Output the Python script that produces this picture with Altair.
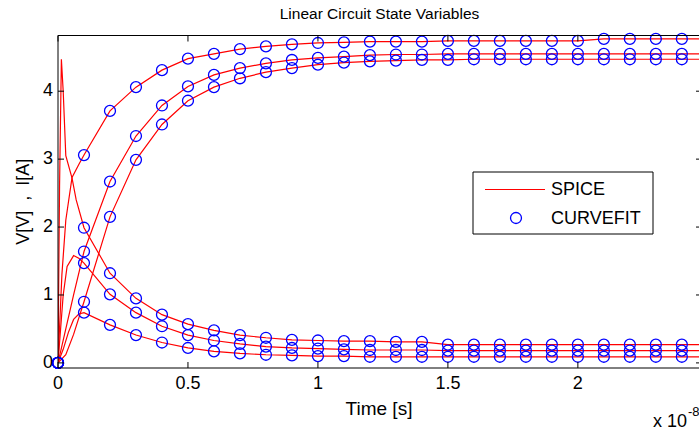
import altair as alt
import pandas as pd

# ---------------- data ----------------
t_fit = [0.0, 0.1, 0.2, 0.3, 0.4, 0.5, 0.6, 0.7, 0.8, 0.9, 1.0, 1.1, 1.2,
         1.3, 1.4, 1.5, 1.6, 1.7, 1.8, 1.9, 2.0, 2.1, 2.2, 2.3, 2.4]

v1_fit = [0, 3.06, 3.71, 4.06, 4.31, 4.48, 4.55, 4.62, 4.66, 4.69, 4.71, 4.72, 4.73,
          4.73, 4.73, 4.74, 4.74, 4.74, 4.74, 4.74, 4.74, 4.77, 4.77, 4.77, 4.77]
v2_fit = [0, 1.64, 2.67, 3.34, 3.79, 4.07, 4.24, 4.34, 4.41, 4.46, 4.49, 4.51, 4.53,
          4.54, 4.54, 4.55, 4.55, 4.55, 4.55, 4.55, 4.55, 4.55, 4.55, 4.55, 4.55]
v3_fit = [0, 0.90, 2.15, 2.99, 3.51, 3.86, 4.06, 4.19, 4.28, 4.34, 4.39, 4.42, 4.44,
          4.45, 4.46, 4.46, 4.47, 4.47, 4.47, 4.47, 4.47, 4.47, 4.47, 4.47, 4.47]
i1_fit = [0, 1.99, 1.32, 0.95, 0.71, 0.57, 0.48, 0.41, 0.37, 0.34, 0.33, 0.32, 0.32,
          0.31, 0.31, 0.27, 0.27, 0.27, 0.27, 0.27, 0.27, 0.27, 0.27, 0.27, 0.27]
i2_fit = [0, 1.47, 1.01, 0.74, 0.54, 0.41, 0.33, 0.28, 0.24, 0.22, 0.21, 0.20, 0.19,
          0.19, 0.19, 0.18, 0.18, 0.18, 0.18, 0.18, 0.18, 0.18, 0.18, 0.18, 0.18]
i3_fit = [0, 0.74, 0.56, 0.41, 0.30, 0.22, 0.17, 0.14, 0.12, 0.11, 0.10, 0.10, 0.09,
          0.09, 0.09, 0.09, 0.09, 0.09, 0.09, 0.09, 0.09, 0.09, 0.09, 0.09, 0.09]

# extra SPICE samples inside the first 0.1e-8 s (fast transients)
v1_early_t = [0.015, 0.03, 0.054, 0.08]
v1_early_v = [1.3, 2.1, 2.73, 2.92]
v2_early_t = [0.03, 0.06]
v2_early_v = [0.5, 1.0]
v3_early_t = [0.03, 0.06]
v3_early_v = [0.12, 0.42]
i1_early_t = [0.006, 0.013, 0.02, 0.03, 0.054, 0.07]
i1_early_v = [2.6, 4.47, 4.0, 3.05, 2.72, 2.4]
i2_early_t = [0.01, 0.02, 0.035, 0.06, 0.08]
i2_early_v = [0.5, 1.0, 1.42, 1.58, 1.54]
i3_early_t = [0.02, 0.04, 0.06, 0.08]
i3_early_v = [0.2, 0.45, 0.64, 0.72]
t_end = 2.5

x_ticks = [0, 0.5, 1, 1.5, 2]
x_tick_labels = ["0", "0.5", "1", "1.5", "2"]
y_ticks = [0, 1, 2, 3, 4]
y_tick_labels = ["0", "1", "2", "3", "4"]
legend_labels = ["SPICE", "CURVEFIT"]
chart_title = "Linear Circuit State Variables"
x_title = "Time [s]"
y_title = "V[V]\u00a0\u00a0,\u00a0\u00a0I[A]"
exp_base = "x 10"
exp_power = "-8"

# ---------------- build tables ----------------
fits = {"v1": v1_fit, "v2": v2_fit, "v3": v3_fit,
        "i1": i1_fit, "i2": i2_fit, "i3": i3_fit}
early = {"v1": (v1_early_t, v1_early_v), "v2": (v2_early_t, v2_early_v),
         "v3": (v3_early_t, v3_early_v), "i1": (i1_early_t, i1_early_v),
         "i2": (i2_early_t, i2_early_v), "i3": (i3_early_t, i3_early_v)}

fit_rows, spice_rows = [], []
for name, vals in fits.items():
    for t, v in zip(t_fit, vals):
        fit_rows.append({"series": name, "t": t, "v": v})
    et, ev = early[name]
    ts = [t_fit[0]] + et + t_fit[1:] + [t_end]
    vs = [vals[0]] + ev + vals[1:] + [vals[-1]]
    for t, v in zip(ts, vs):
        spice_rows.append({"series": name, "t": t, "v": v})
fit_df = pd.DataFrame(fit_rows)
spice_df = pd.DataFrame(spice_rows)

# ---------------- layout ----------------
W, H = 641, 332.5
FONT = "Liberation Sans"
FS = 18
x_dom = [0, 2.466]
y_dom = [-0.075, 4.82]
xs = alt.Scale(domain=x_dom, nice=False, zero=False)
ys = alt.Scale(domain=y_dom, nice=False, zero=False)


def X(field):
    return alt.X(field, scale=xs, axis=None)


def Y(field):
    return alt.Y(field, scale=ys, axis=None)


lines = alt.Chart(spice_df).mark_line(color="#ff0000", strokeWidth=1.2, clip=True).encode(
    x=X("t:Q"), y=Y("v:Q"), detail="series:N", order="t:Q")
points = alt.Chart(fit_df).mark_point(shape="circle", filled=False, color="#0000ff",
                                      size=120, strokeWidth=1.3, opacity=1).encode(
    x=X("t:Q"), y=Y("v:Q"))

xt = pd.DataFrame({"v": x_ticks, "label": x_tick_labels})
yt = pd.DataFrame({"v": y_ticks, "label": y_tick_labels})
one = pd.DataFrame({"a": [0]})

tick_bottom = alt.Chart(xt).mark_rule(color="black").encode(
    x=X("v:Q"), y=alt.value(H), y2=alt.value(H - 6))
tick_top = alt.Chart(xt).mark_rule(color="black").encode(
    x=X("v:Q"), y=alt.value(0), y2=alt.value(6))
tick_left = alt.Chart(yt).mark_rule(color="black").encode(
    y=Y("v:Q"), x=alt.value(0), x2=alt.value(6))
tick_right = alt.Chart(yt).mark_rule(color="black").encode(
    y=Y("v:Q"), x=alt.value(W - 3), x2=alt.value(W))
border_top = alt.Chart(one).mark_rule(color="black").encode(
    x=alt.value(0), x2=alt.value(W), y=alt.value(0))
border_bottom = alt.Chart(one).mark_rule(color="black").encode(
    x=alt.value(0), x2=alt.value(W), y=alt.value(H))
border_left = alt.Chart(one).mark_rule(color="black").encode(
    x=alt.value(0), y=alt.value(0), y2=alt.value(H))

x_labels = alt.Chart(xt).mark_text(font=FONT, fontSize=FS, align="center",
                                   baseline="top", color="black").encode(
    x=X("v:Q"), y=alt.value(H + 7), text="label:N")
y_labels = alt.Chart(yt).mark_text(font=FONT, fontSize=FS, align="right",
                                   baseline="middle", color="black").encode(
    y=Y("v:Q"), x=alt.value(-5), text="label:N")


def label_text(txt, x, y, size=FS, align="center", baseline="alphabetic", angle=0):
    return alt.Chart(pd.DataFrame({"label": [txt]})).mark_text(
        font=FONT, fontSize=size, align=align, baseline=baseline, angle=angle,
        color="black").encode(text="label:N", x=alt.value(x), y=alt.value(y))


title_t = label_text(chart_title, W / 2 + 1, -16.5, size=15.5)
x_title_t = label_text(x_title, W / 2 + 0.5, H + 47, size=19)
y_title_t = label_text(y_title, -29, H / 2, angle=270)

# legend
leg_box = alt.Chart(one).mark_rect(fill="white", stroke="black", strokeWidth=1).encode(
    x=alt.value(415), x2=alt.value(595), y=alt.value(136.5), y2=alt.value(198.5))
leg_line = alt.Chart(one).mark_rule(color="#ff0000", strokeWidth=1.2).encode(
    x=alt.value(427), x2=alt.value(487), y=alt.value(154))
leg_pt = alt.Chart(one).mark_point(shape="circle", filled=False, color="#0000ff",
                                   size=120, strokeWidth=1.3, opacity=1).encode(
    x=alt.value(458), y=alt.value(182.5))
leg_t1 = label_text(legend_labels[0], 493, 154, align="left", baseline="middle")
leg_t2 = label_text(legend_labels[1], 493, 183, align="left", baseline="middle")

exp1 = label_text(exp_base, 595, 391, align="left")
exp2 = label_text(exp_power, 630, 380, size=13, align="left")

chart = alt.layer(
    lines, points, tick_bottom, tick_top, tick_left, tick_right,
    border_top, border_bottom, border_left, x_labels, y_labels,
    title_t, x_title_t, y_title_t,
    leg_box, leg_line, leg_pt, leg_t1, leg_t2, exp1, exp2,
).properties(
    width=W, height=H,
    autosize=alt.AutoSizeParams(type="none"),
    padding={"left": 58, "top": 35.5, "right": 0, "bottom": 65},
    background="white",
).configure_view(stroke=None)

chart.save("out.html", embed_options={"renderer": "svg", "actions": False})
